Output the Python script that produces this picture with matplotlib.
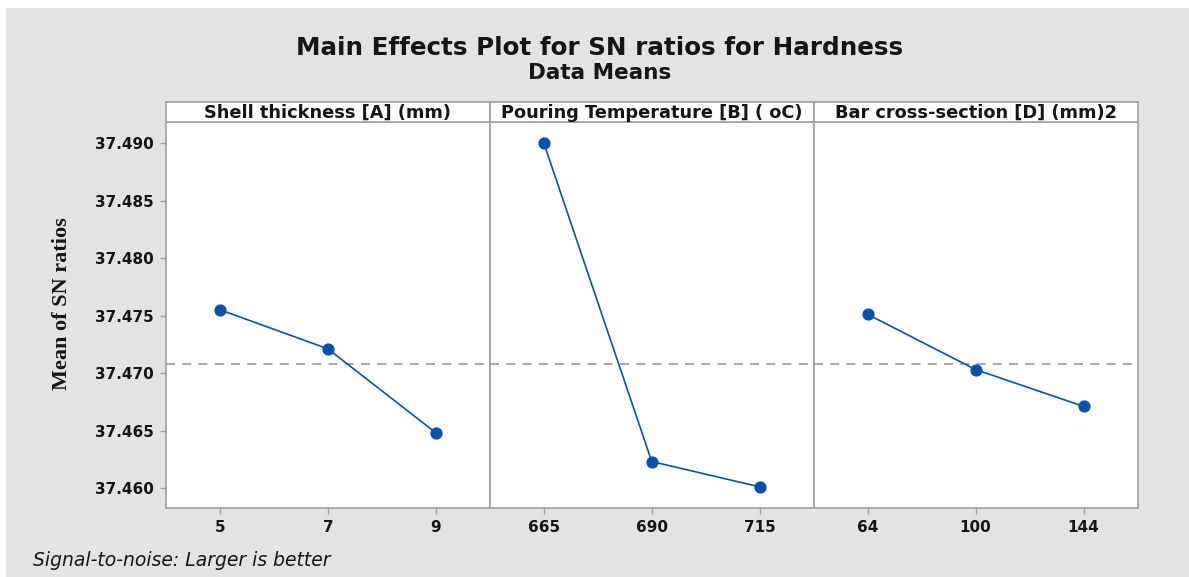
import matplotlib
matplotlib.use("Agg")
import matplotlib.pyplot as plt
from matplotlib.patches import Rectangle

# ---- data ----
panel_titles = ["Shell thickness [A] (mm)", "Pouring Temperature [B] ( oC)", "Bar cross-section [D] (mm)2"]
levels_A = ["5", "7", "9"]
levels_B = ["665", "690", "715"]
levels_D = ["64", "100", "144"]
sn_A = [37.4755, 37.4721, 37.4648]
sn_B = [37.4900, 37.4623, 37.4601]
sn_D = [37.4751, 37.4703, 37.4671]
grand_mean = 37.4708
y_ticks = [37.460, 37.465, 37.470, 37.475, 37.480, 37.485, 37.490]

FW, FH = 1189, 577
fig = plt.figure(figsize=(FW / 100, FH / 100), dpi=100)
fig.patch.set_facecolor("white")
fig.add_artist(Rectangle((6 / FW, 0), 1, 1 - 8 / FH, transform=fig.transFigure,
                         facecolor="#e3e3e3", edgecolor="none", zorder=-10))

L = 166 / FW
W = (1137.5 - 166) / 3 / FW
B = 1 - 508 / FH
H = (508 - 122) / FH
HH = 20 / FH

spine_c = "#a0a0a0"
line_c = "#0a52a8"
txt_c = "#151515"
tick_font = dict(family="DejaVu Sans", weight="bold", size=11, color=txt_c)

levels = [levels_A, levels_B, levels_D]
values = [sn_A, sn_B, sn_D]

for i in range(3):
    ax = fig.add_axes([L + i * W, B, W, H])
    ax.set_facecolor("white")
    x = list(range(len(levels[i])))
    ax.axhline(grand_mean, color="#a0a0a0", lw=1.3, ls=(0, (5, 4)), zorder=1)
    ax.plot(x, values[i], color=line_c, lw=1.2, marker="o", ms=7.8,
            markerfacecolor=line_c, markeredgecolor=line_c, zorder=3)
    ax.set_xlim(-0.5, 2.5)
    ax.set_ylim(37.45826, 37.49183)
    ax.set_xticks(x)
    ax.set_xticklabels(levels[i], fontdict=tick_font)
    for s in ax.spines.values():
        s.set_color(spine_c)
        s.set_linewidth(1.2)
    ax.tick_params(axis="both", direction="out", length=4, width=1, color=spine_c, pad=5)
    if i == 0:
        ax.set_yticks(y_ticks)
        ax.set_yticklabels([f"{v:.3f}" for v in y_ticks], fontdict=tick_font)
    else:
        ax.set_yticks([])
    hx = fig.add_axes([L + i * W, B + H, W, HH])
    hx.set_facecolor("white")
    hx.set_xticks([])
    hx.set_yticks([])
    for s in hx.spines.values():
        s.set_color(spine_c)
        s.set_linewidth(1.2)
    hx.text(0.5, 0.45, panel_titles[i], transform=hx.transAxes, ha="center", va="center",
            family="DejaVu Sans", weight="bold", size=12.8, color=txt_c)

fig.text(62 / FW, 1 - 304 / FH, "Mean of SN ratios", rotation=90, ha="center", va="center",
         family="Liberation Serif", weight="bold", size=16, color=txt_c)
fig.text(600 / FW, 1 - 48 / FH, "Main Effects Plot for SN ratios for Hardness",
         ha="center", va="center", family="DejaVu Sans", weight="bold", size=17.7, color=txt_c)
fig.text(600 / FW, 1 - 73 / FH, "Data Means", ha="center", va="center",
         family="DejaVu Sans", weight="bold", size=15.5, color=txt_c)
fig.text(33 / FW, 1 - 560 / FH, "Signal-to-noise: Larger is better", ha="left", va="center",
         family="DejaVu Sans", style="italic", size=13.5, color=txt_c)

fig.savefig("out.png", dpi=100, facecolor=fig.get_facecolor())
